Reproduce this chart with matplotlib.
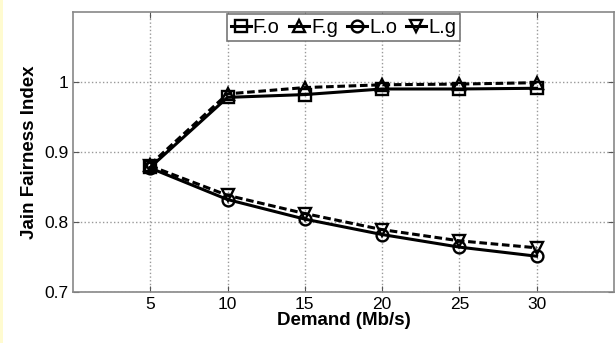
import numpy as np
import matplotlib.pyplot as plt

# demand values (Mb/s)
demand = [5, 10, 15, 20, 25, 30]

# Jain fairness index per scheme
f_o = [0.878, 0.978, 0.982, 0.990, 0.990, 0.991]
f_g = [0.882, 0.983, 0.992, 0.996, 0.997, 0.999]
l_o = [0.877, 0.832, 0.804, 0.782, 0.764, 0.751]
l_g = [0.880, 0.838, 0.812, 0.789, 0.773, 0.763]

plt.rcParams['font.family'] = ['Liberation Sans', 'DejaVu Sans']

fig = plt.figure(figsize=(6.16, 3.43), dpi=100)
ax = fig.add_axes([0.1185, 0.149, 0.878, 0.816])

# thin yellow strip at the left edge of the scan
fig.patches.append(plt.Rectangle((0, 0), 0.005, 1, transform=fig.transFigure,
                                 facecolor='#fffbd0', edgecolor='none'))

style = dict(color='black', linewidth=2.2, markersize=8.5, markerfacecolor='none',
             markeredgewidth=1.7)
ax.plot(demand, f_o, '-', marker='s', label='F.o', **style)
ax.plot(demand, f_g, '--', marker='^', label='F.g', dashes=(2.5, 1.2), **style)
ax.plot(demand, l_o, '-', marker='o', label='L.o', **style)
ax.plot(demand, l_g, '--', marker='v', label='L.g', dashes=(2.5, 1.2), **style)

ax.set_xlim(0, 35)
ax.set_ylim(0.7, 1.1)
ax.set_xticks(demand)
ax.set_yticks([0.7, 0.8, 0.9, 1.0])
ax.set_yticklabels(['0.7', '0.8', '0.9', '1'])
ax.tick_params(direction='in', labelsize=12.5, top=True, right=True,
               color='#555555', length=4)

ax.grid(True, linestyle=':', color='#999999', linewidth=1)
for s in ax.spines.values():
    s.set_color('#888888')
    s.set_linewidth(1.2)

ax.set_xlabel('Demand (Mb/s)', fontsize=13.5, fontweight='bold', labelpad=0)
ax.set_ylabel('Jain Fairness Index', fontsize=13.5, fontweight='bold', labelpad=4)

leg = ax.legend(loc='upper center', bbox_to_anchor=(0.5, 1.0), ncol=4,
                fontsize=14.5, handlelength=1.0, handletextpad=0.1,
                columnspacing=0.45, borderpad=0.2, fancybox=False,
                framealpha=1, borderaxespad=0.1)
leg.get_frame().set_edgecolor('#777777')
leg.get_frame().set_linewidth(1.2)
for h in leg.legend_handles:
    h.set_linestyle('-')

fig.savefig('out.png', dpi=100)
